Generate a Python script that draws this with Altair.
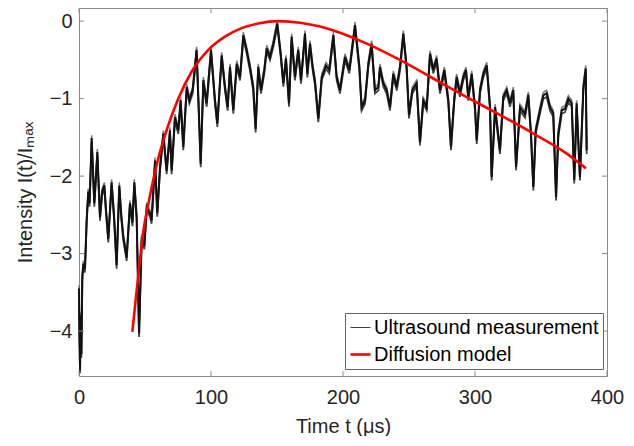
import altair as alt
import pandas as pd

t_meas = [0, 0.4, 0.8, 1.3, 1.8, 2.5, 3.3, 4.5, 5.8, 7, 8, 9.6, 11.6, 13.9, 15.9, 17.5, 19.2, 20.5,
          22.2, 24.7, 26.5, 28.5, 30.5, 32, 33.6, 36.1, 38.6, 40.5, 41.9, 43.7, 45.5, 47.5, 49.5,
          51.3, 53.8, 55, 57.6, 59.3, 61.4, 63.9, 66.4, 68.9, 70.2, 72.7, 75.2, 77, 79, 81.6, 83.6,
          86.1, 89.1, 92.2, 94.2, 96.7, 100, 103, 104.8, 108.1, 110.6, 112.6, 114.4, 116.9, 119.5,
          122, 124.5, 127, 129.5, 132, 133.8, 135.8, 137.9, 140.4, 142.2, 144.7, 147.2, 150.2,
          152.8, 154.8, 156.8, 159.1, 161.1, 163.6, 166.1, 168.2, 171.2, 173, 175, 177, 178.8,
          181.3, 183.9, 187.1, 189.6, 192.7, 195.2, 197.7, 201.5, 204.8, 209.1, 212.4, 214.1,
          216.7, 219.2, 221.7, 224.2, 226.8, 228, 230.5, 233.1, 235.6, 238.1, 240.7, 243.2, 245.7,
          248.2, 250, 252.5, 255.8, 258.3, 260.8, 263.4, 265.9, 268.4, 270.9, 273.5, 276.8, 279.8,
          281.8, 284.3, 286.1, 288.6, 291.1, 293.2, 294.9, 297.5, 300, 301.3, 303.8, 306.3, 308.9,
          311.4, 312.6, 315.2, 318.9, 321.4, 324, 326.5, 329, 331.1, 334.1, 337.9, 340.4, 342.4,
          344.2, 346, 349.2, 351.7, 354.3, 356.8, 359.3, 361.4, 363.1, 365.7, 368.2, 370.7, 373.3,
          375.2, 377, 379.5, 382.1, 383.9, 384.6]
y_meas = [-3.45, -4.1, -4.5, -3.8, -4.3, -3.3, -3.13, -3.2, -2.57, -2.2, -2.35, -1.51, -2.35, -1.69,
          -2.53, -2.2, -2.12, -2.45, -2.81, -2.08, -2.5, -3.15, -2.12, -2.5, -2.79, -3.05, -2.35,
          -2.6, -2.08, -2.53, -4.03, -2.79, -2.9, -2.4, -2.48, -2.57, -1.80, -2.48, -1.88, -1.45,
          -1.93, -1.41, -1.93, -1.24, -1.41, -1.02, -1.62, -0.85, -1.02, -0.89, -0.37, -1.84, -0.76,
          -1.06, -0.37, -1.02, -1.32, -0.44, -0.85, -1.11, -0.59, -1.15, -0.55, -0.72, -0.18, -0.37,
          -0.59, -0.85, -1.39, -0.59, -0.89, -0.63, -0.35, -0.46, -0.29, -0.03, -0.42, -0.80, -0.48,
          -1.06, -0.20, -0.72, -0.37, -0.76, -0.16, -0.68, -0.29, -0.59, -0.78, -1.26, -0.72, -0.57,
          -0.63, -0.18, -0.72, -0.89, -0.46, -0.63, -0.05, -0.59, -1.11, -1.02, -0.55, -0.29, -0.89,
          -0.85, -0.59, -0.80, -0.89, -1.11, -0.68, -0.85, -0.59, -0.16, -0.59, -1.21, -0.89, -0.80,
          -1.56, -1.02, -1.11, -0.42, -0.63, -0.48, -0.89, -0.63, -1.02, -1.62, -1.0, -0.72, -0.93,
          -0.72, -0.63, -0.98, -0.68, -1.11, -1.54, -0.89, -0.68, -0.57, -1.11, -2.01, -1.11, -1.67,
          -0.98, -0.89, -1.06, -0.89, -1.88, -1.11, -1.2, -0.95, -1.45, -2.14, -1.41, -1.15, -0.96,
          -0.93, -1.11, -1.19, -2.27, -1.45, -1.15, -1.13, -1.00, -1.06, -2.05, -1.06, -2.01, -0.85,
          -0.61, -1.67]

# Diffusion model
t_model = [40.4, 44.9, 48.7, 53.8, 60.1, 67.7, 75.2, 85.4, 98, 110.6, 123.2, 135.8, 151, 167.4,
           182.6, 192.7, 218, 243, 268.4, 293.7, 318.9, 344.2, 369.5, 384]
y_model = [-4.01, -3.28, -2.72, -2.25, -1.77, -1.34, -1.00, -0.65, -0.37, -0.20, -0.09, -0.03, 0.0,
           -0.02, -0.07, -0.12, -0.29, -0.50, -0.74, -0.98, -1.21, -1.45, -1.71, -1.90]

series_names = ["Ultrasound measurement", "Diffusion model"]
x_ticks = [0, 100, 200, 300, 400]
y_ticks = [0, -1, -2, -3, -4]

W, H = 528, 368
FONT = "Liberation Sans"
TXT = "#262626"
FRAME = "#8a8a8a"

meas = pd.DataFrame({"t": t_meas, "v": y_meas, "series": series_names[0]})
model = pd.DataFrame({"t": t_model, "v": y_model, "series": series_names[1]})
xt = pd.DataFrame({"x": x_ticks})
yt = pd.DataFrame({"y": y_ticks})

xs = alt.Scale(domain=[0, 400], nice=False)
ys = alt.Scale(domain=[-4.58, 0.17], nice=False)

x_enc = alt.X("t:Q", scale=xs, axis=alt.Axis(title="Time t (μs)", values=x_ticks, format="d",
                                              grid=False, ticks=False, domain=False, labelFlush=False,
                                              labelPadding=11, titlePadding=9))
y_enc = alt.Y("v:Q", scale=ys, axis=alt.Axis(title="Intensity I(t)/Iₘₐₓ", values=y_ticks, format="d",
                                              grid=False, ticks=False, domain=False, labelFlush=False,
                                              labelPadding=7, titlePadding=14))

color_enc = alt.Color("series:N", scale=alt.Scale(domain=series_names, range=["#404040", "#ff0000"]),
                      legend=alt.Legend(title=None, orient="none", legendX=266, legendY=305))
sw_enc = alt.StrokeWidth("series:N", scale=alt.Scale(domain=series_names, range=[1.0, 2.6]),
                         legend=alt.Legend(title=None, orient="none", legendX=266, legendY=305))

meas_main = alt.Chart(meas).mark_line(strokeWidth=2.0, strokeJoin="miter").encode(
    x=x_enc, y=y_enc, color=alt.value("#111111"))
meas_b = alt.Chart(meas).mark_line(strokeWidth=1.8, color="#222222", opacity=0.85).encode(
    x=x_enc, y=y_enc, yOffset=alt.value(3.5))
meas_c = alt.Chart(meas).mark_line(strokeWidth=1.5, color="#444444", opacity=0.7).encode(
    x=x_enc, y=y_enc, yOffset=alt.value(-3))
meas_legend = alt.Chart(meas).mark_line(strokeWidth=0, opacity=0).encode(
    x=x_enc, y=y_enc, color=color_enc)

model_line = alt.Chart(model).mark_line(interpolate="monotone").encode(
    x=x_enc, y=y_enc, color=color_enc, strokeWidth=sw_enc)

tick_len = 5
xb = alt.Chart(xt).mark_rule(color=FRAME, strokeWidth=1).encode(
    x=alt.X("x:Q", scale=xs), y=alt.value(H), y2=alt.value(H - tick_len))
xtop = alt.Chart(xt).mark_rule(color=FRAME, strokeWidth=1).encode(
    x=alt.X("x:Q", scale=xs), y=alt.value(0), y2=alt.value(tick_len))
yl = alt.Chart(yt).mark_rule(color=FRAME, strokeWidth=1).encode(
    y=alt.Y("y:Q", scale=ys), x=alt.value(0), x2=alt.value(tick_len))
yr = alt.Chart(yt).mark_rule(color=FRAME, strokeWidth=1).encode(
    y=alt.Y("y:Q", scale=ys), x=alt.value(W), x2=alt.value(W - tick_len))

chart = alt.layer(meas_c, meas_b, meas_main, meas_legend, model_line, xb, xtop, yl, yr).properties(
    width=W, height=H,
    autosize=alt.AutoSizeParams(type="none"),
    padding={"left": 71, "top": 0, "right": 19, "bottom": 60},
).configure_view(stroke=FRAME, strokeWidth=1).configure_axis(
    labelFont=FONT, labelFontSize=20, labelColor=TXT,
    titleFont=FONT, titleFontSize=20, titleColor=TXT, titleFontWeight="normal",
).configure_legend(
    labelFont=FONT, labelFontSize=20, labelColor="#000000", labelOffset=2, labelLimit=0,
    symbolType="stroke", symbolSize=400, rowPadding=5, padding=4,
    strokeColor="#666666", fillColor="#ffffff", cornerRadius=0,
)

chart.save("out.html", embed_options={"renderer": "svg", "actions": False})
